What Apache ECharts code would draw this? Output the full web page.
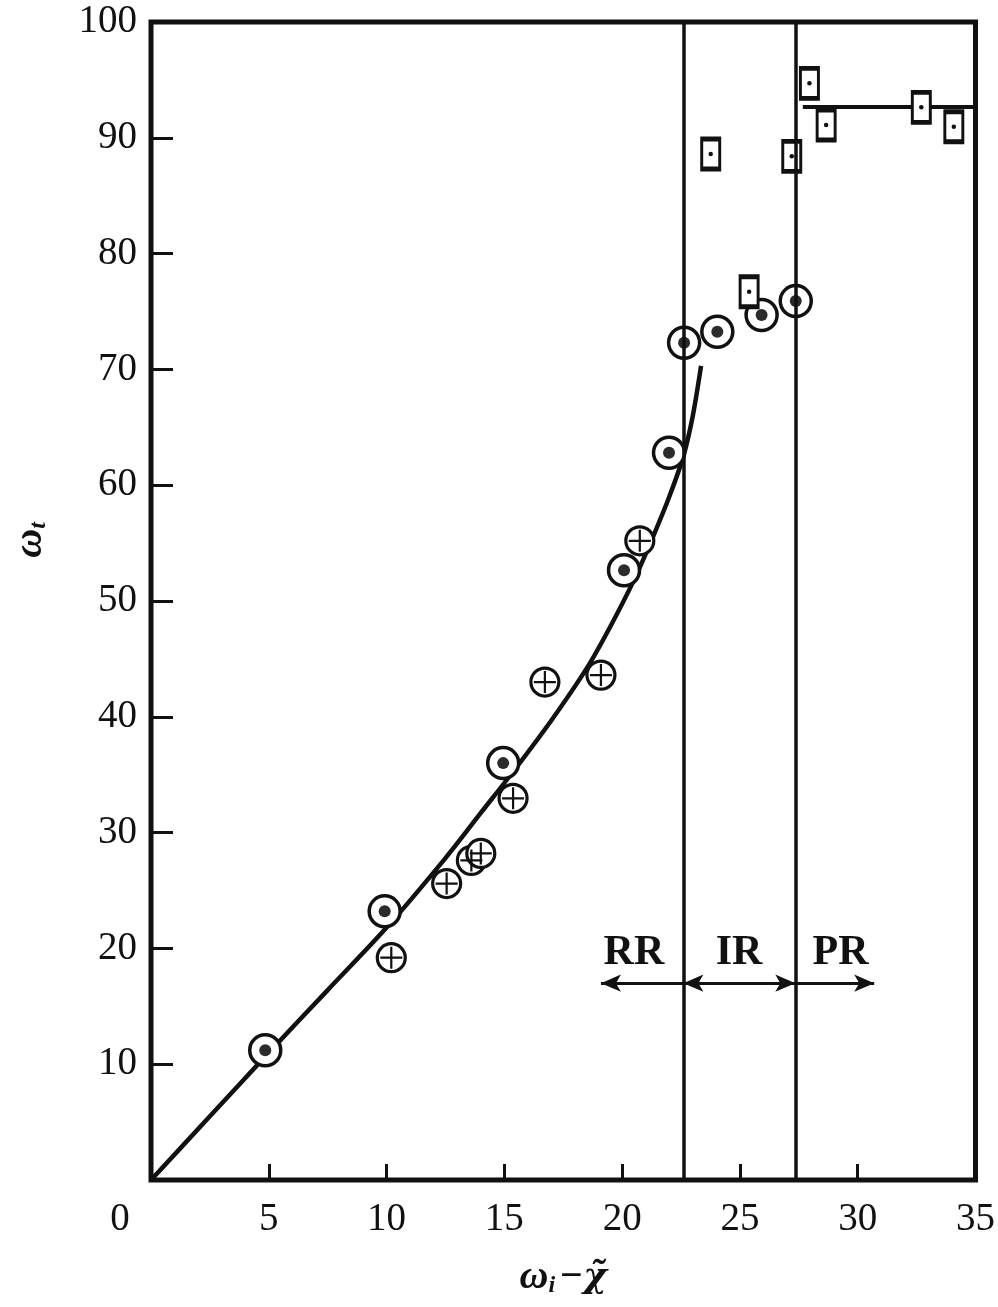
<!DOCTYPE html>
<html>
<head>
<meta charset="utf-8">
<script src="https://cdn.jsdelivr.net/npm/echarts@6/dist/echarts.min.js"></script>
<style>
html,body{margin:0;padding:0;background:#fff;}
#c{width:998px;height:1307px;}
</style>
</head>
<body>
<div id="c"></div>
<script>
// ---- data ----
const circleDot = [[4.85,11.2],[9.92,23.2],[14.95,36.0],[20.08,52.65],[21.99,62.8],[22.63,72.3],[24.04,73.25],[25.92,74.7],[27.37,75.9]];
const crossCircle = [[10.2,19.2],[12.55,25.6],[13.6,27.6],[14.0,28.2],[15.37,32.96],[16.72,43.0],[19.1,43.6],[20.75,55.2]];
const rectDot = [[23.76,88.6],[25.39,76.7],[27.2,88.4],[27.95,94.7],[28.66,91.1],[32.7,92.63],[34.08,90.96]];
const curve = [[0,0],[2.5,5.5],[5,11],[7.5,16.4],[10,21.8],[12.5,27.8],[14,31.7],[15.5,35.6],[17,39.7],[18.5,44.2],[19.5,47.8],[20.5,51.8],[21.3,55.5],[22,59],[22.6,62.5],[23,66],[23.35,70.3]];
const plateau = [[27.67,92.65],[35,92.65]];
const regionBounds = [22.6, 27.35];
const arrowY = 17.0;
const arrowLeftEnd = 19.1;
const arrowRightEnd = 30.7;
const regionLabels = [['RR',20.5,19.6],['IR',24.96,19.6],['PR',29.27,19.6]];

const INK = '#111';
const SERIF = 'Liberation Serif, Times New Roman, serif';

const chart = echarts.init(document.getElementById('c'));
chart.setOption({
  animation: false,
  backgroundColor: '#fff',
  grid: {left: 151, right: 21, top: 22, bottom: 127, show: true, borderColor: INK, borderWidth: 5, backgroundColor: 'transparent'},
  xAxis: {
    type: 'value', min: 0, max: 35, interval: 5,
    axisLine: {show: false},
    splitLine: {show: false},
    axisTick: {show: true, inside: true, length: 16, lineStyle: {color: INK, width: 3}},
    axisLabel: {
      margin: 20, color: INK, fontFamily: SERIF, fontSize: 39,
      formatter: v => v === 0 ? '{z|0}' : String(v),
      rich: {z: {fontFamily: SERIF, fontSize: 39, color: INK, padding: [0, 62, 0, 0]}}
    },
    name: '{w|ω}{s|i}{w|−}{c|χ̃}',
    nameLocation: 'middle', nameGap: 78,
    nameTextStyle: {
      rich: {
        w: {fontFamily: SERIF, fontSize: 40, fontStyle: 'italic', fontWeight: 'bold', color: INK},
        c: {fontFamily: 'DejaVu Serif', fontSize: 36, fontStyle: 'italic', fontWeight: 'bold', color: INK},
        s: {fontFamily: SERIF, fontSize: 24, fontStyle: 'italic', fontWeight: 'bold', color: INK, padding: [16, 4, 0, 0]}
      }
    }
  },
  yAxis: {
    type: 'value', min: 0, max: 100, interval: 10,
    axisLine: {show: false},
    splitLine: {show: false},
    axisTick: {show: true, inside: true, length: 22, lineStyle: {color: INK, width: 3}},
    axisLabel: {
      margin: 14, color: INK, fontFamily: SERIF, fontSize: 39,
      formatter: v => v === 0 ? '' : String(v)
    },
    name: '{w|ω}{s|t}',
    nameLocation: 'middle', nameGap: 100, nameRotate: 90,
    nameTextStyle: {
      padding: [0, 0, 0, 122],
      rich: {
        w: {fontFamily: SERIF, fontSize: 40, fontStyle: 'italic', fontWeight: 'bold', color: INK},
        s: {fontFamily: SERIF, fontSize: 24, fontStyle: 'italic', fontWeight: 'bold', color: INK, padding: [16, 0, 0, 0]}
      }
    }
  },
  series: [
    {
      type: 'line', data: curve, smooth: 0.3, showSymbol: false, z: 2,
      lineStyle: {color: INK, width: 4.5},
      markLine: {
        silent: true, symbol: 'none', animation: false,
        label: {show: false},
        lineStyle: {color: INK, width: 3.5, type: 'solid'},
        data: [
          {xAxis: regionBounds[0]},
          {xAxis: regionBounds[1]},
          [{coord: [regionBounds[0], arrowY], symbol: 'none'}, {coord: [arrowLeftEnd, arrowY], symbol: 'arrow', symbolSize: [13, 20], lineStyle: {width: 3}}],
          [{coord: [regionBounds[0], arrowY], symbol: 'arrow', symbolSize: [13, 20], lineStyle: {width: 3}}, {coord: [regionBounds[1], arrowY], symbol: 'arrow', symbolSize: [13, 20]}],
          [{coord: [regionBounds[1], arrowY], symbol: 'none'}, {coord: [arrowRightEnd, arrowY], symbol: 'arrow', symbolSize: [13, 20], lineStyle: {width: 3}}]
        ]
      }
    },
    {
      type: 'line', data: plateau, showSymbol: false, z: 2,
      lineStyle: {color: INK, width: 4}
    },
    {
      type: 'scatter', data: circleDot, symbol: 'circle', symbolSize: 31, z: 3,
      itemStyle: {color: '#fff', borderColor: INK, borderWidth: 3.5, opacity: 1}
    },
    {
      type: 'scatter', data: circleDot, symbol: 'circle', symbolSize: 12, z: 4,
      itemStyle: {color: '#2b2b2b', opacity: 1}
    },
    {
      type: 'scatter', data: crossCircle, symbol: 'circle', symbolSize: 28, z: 3,
      itemStyle: {color: '#fff', borderColor: INK, borderWidth: 3.2, opacity: 1}
    },
    {
      type: 'scatter', data: crossCircle, symbol: 'path://M10,0 L10,20 M0,10 L20,10', symbolSize: 22, z: 4,
      itemStyle: {color: 'none', borderColor: INK, borderWidth: 2.2, opacity: 1}
    },
    {
      type: 'scatter', data: rectDot, symbol: 'rect', symbolSize: [18, 30], z: 3,
      itemStyle: {color: '#fff', borderColor: INK, borderWidth: 3.8, opacity: 1}
    },
    {
      type: 'scatter', data: rectDot, symbol: 'circle', symbolSize: 4.5, z: 4,
      itemStyle: {color: INK, opacity: 1}
    },
    {
      type: 'scatter', symbolSize: 1, z: 5, silent: true,
      itemStyle: {color: 'transparent', opacity: 1},
      data: regionLabels.map(r => ({name: r[0], value: [r[1], r[2]]})),
      label: {
        show: true, position: 'inside', formatter: p => p.name, opacity: 1,
        fontFamily: SERIF, fontWeight: 'bold', fontSize: 42, color: '#111'
      }
    }
  ]
});
</script>
</body>
</html>
